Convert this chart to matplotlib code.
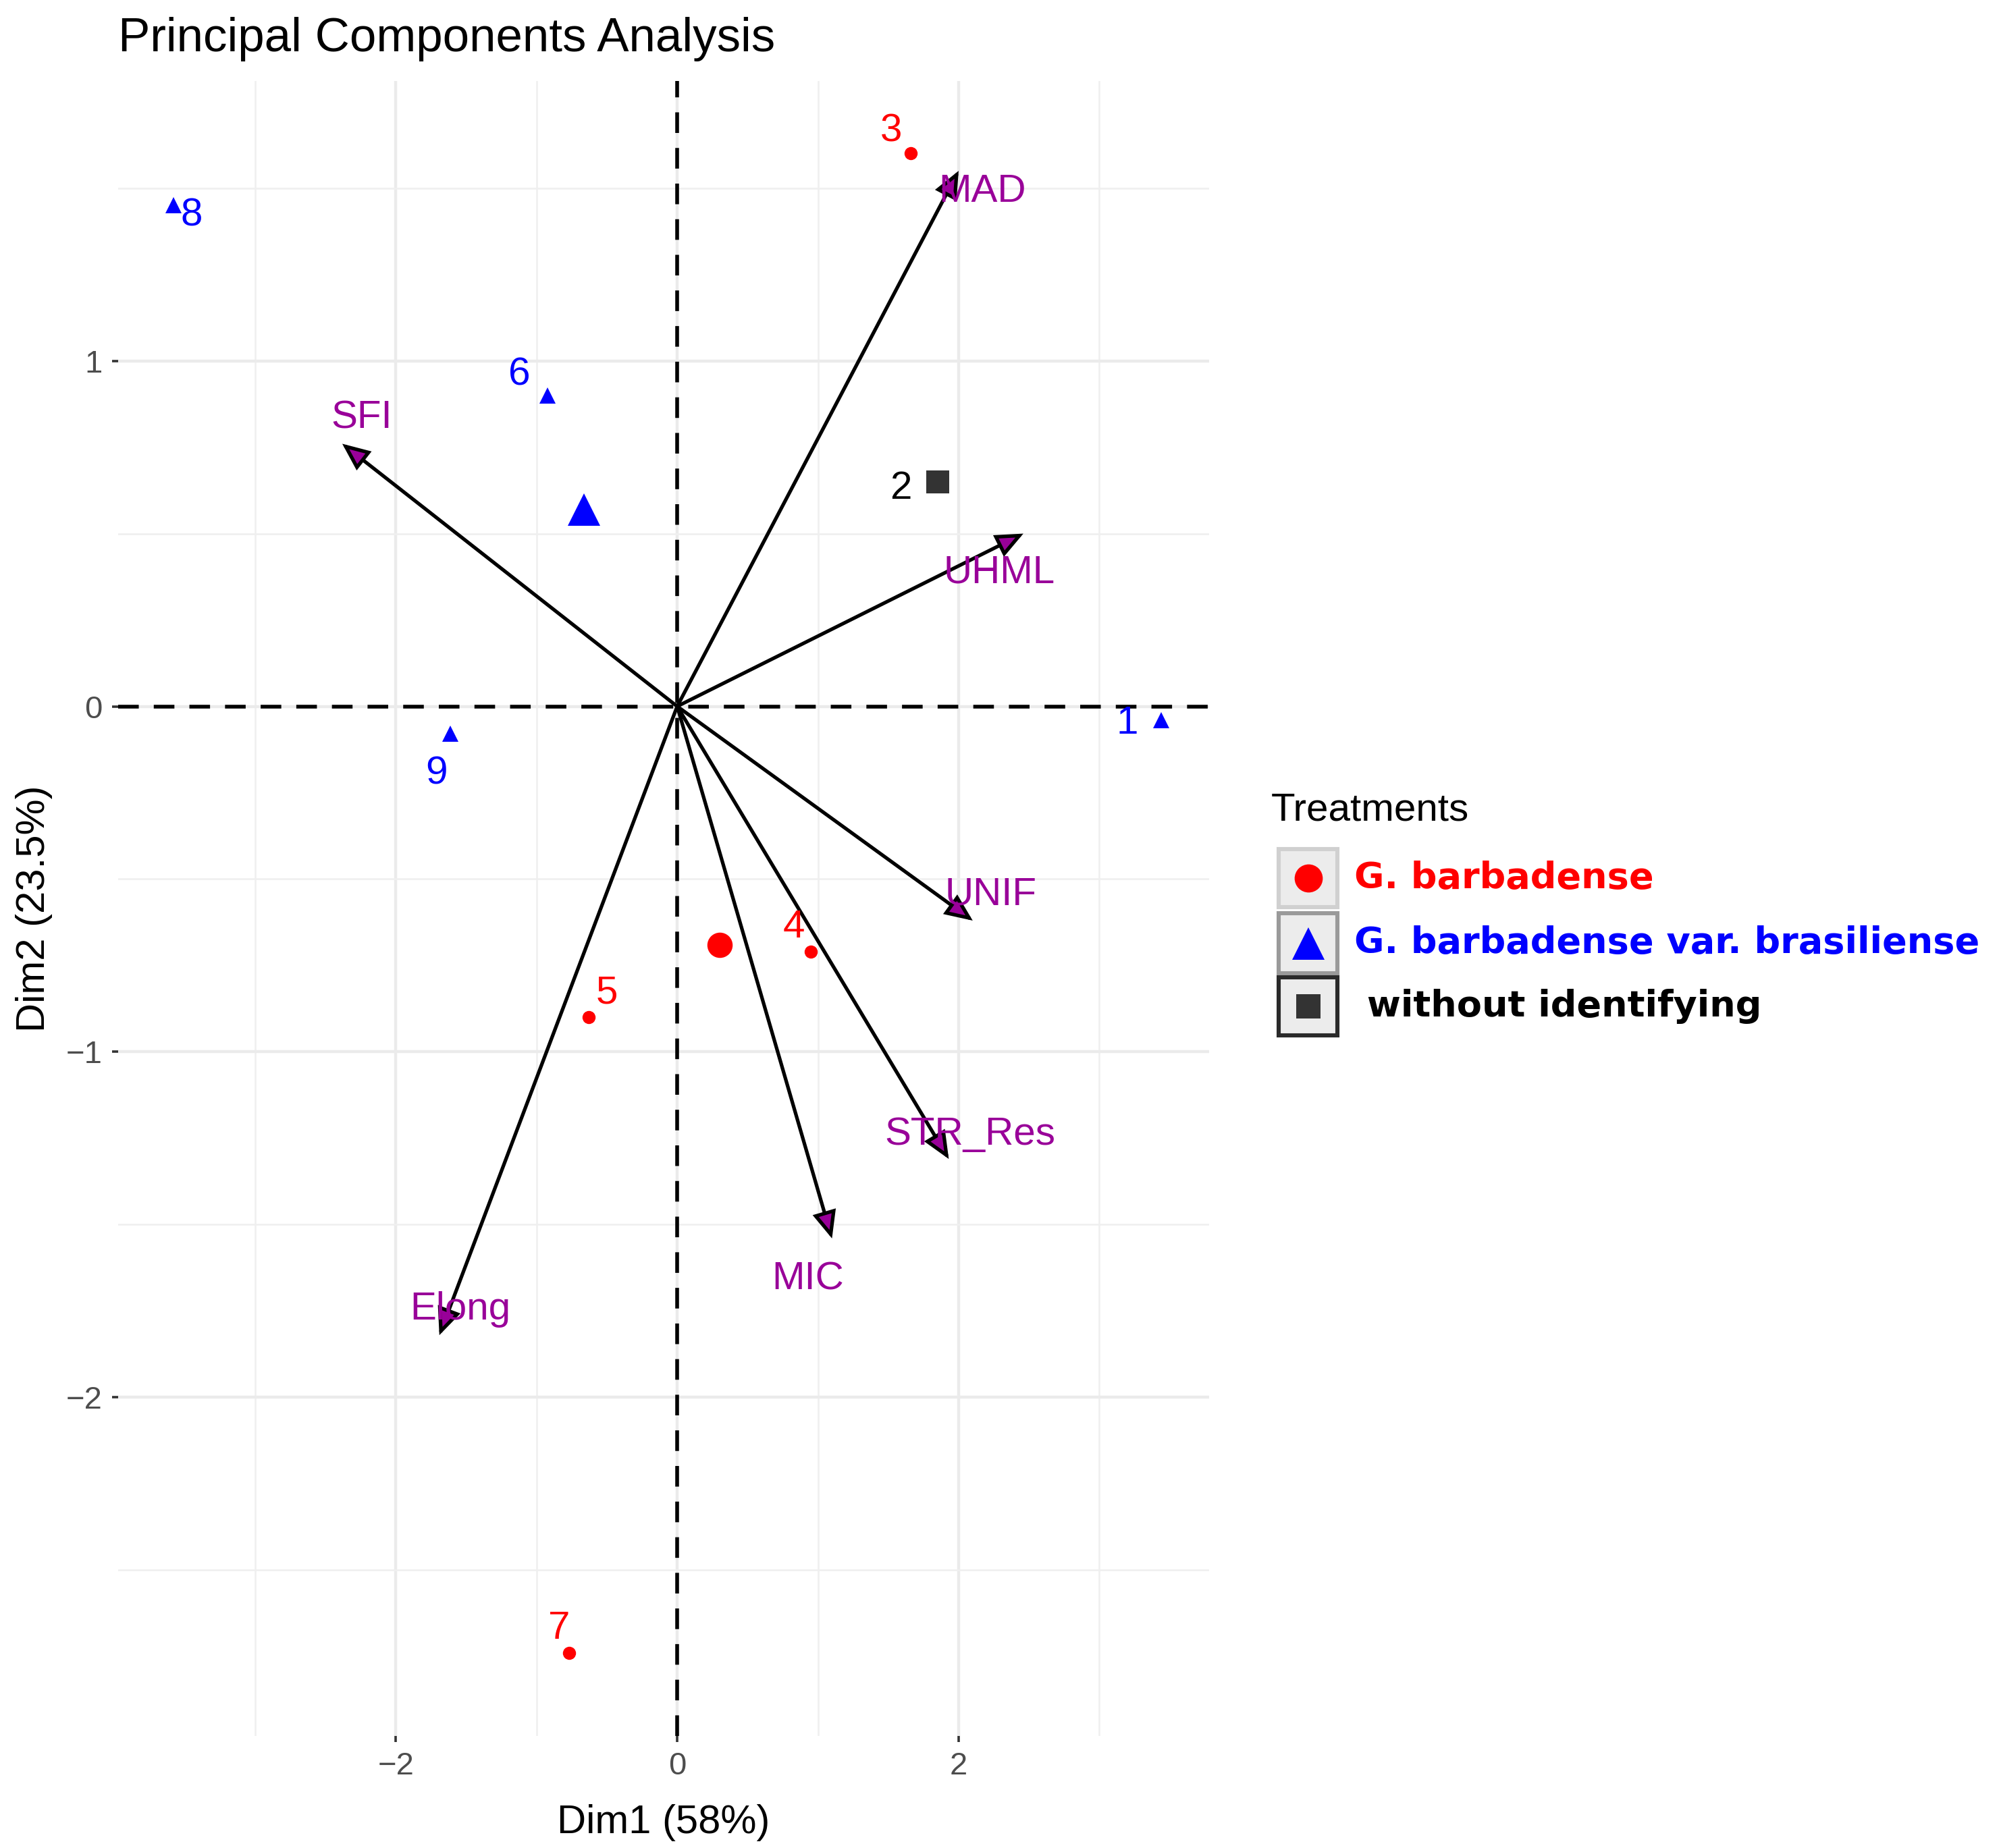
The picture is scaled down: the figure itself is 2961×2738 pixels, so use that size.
import matplotlib

matplotlib.use('Agg')
import matplotlib.pyplot as plt
from matplotlib.lines import Line2D
from matplotlib.patches import Rectangle

# individuals (scores on Dim1 / Dim2)
ind_ids = ["1", "2", "3", "4", "5", "6", "7", "8", "9"]
ind_x = [3.44, 1.85, 1.66, 0.95, -0.63, -0.92, -0.77, -3.58, -1.61]
ind_y = [-0.04, 0.65, 1.60, -0.71, -0.90, 0.90, -2.74, 1.45, -0.08]
ind_group = ["bras", "none", "barb", "barb", "barb", "bras", "barb", "bras", "bras"]
ind_lab_x = [3.20, 1.59, 1.52, 0.83, -0.50, -1.12, -0.84, -3.45, -1.71]
ind_lab_y = [-0.05, 0.63, 1.665, -0.64, -0.83, 0.96, -2.67, 1.42, -0.195]

# group centroids
cen_group = ["barb", "bras"]
cen_x = [0.30, -0.66]
cen_y = [-0.69, 0.57]

# variable loadings (arrow tips)
var_names = ["MAD", "SFI", "UHML", "UNIF", "STR_Res", "MIC", "Elong"]
var_x = [2.00, -2.38, 2.46, 2.10, 1.93, 1.10, -1.69]
var_y = [1.55, 0.76, 0.50, -0.62, -1.31, -1.54, -1.82]
var_lab_x = [2.17, -2.24, 2.29, 2.23, 2.08, 0.93, -1.54]
var_lab_y = [1.49, 0.835, 0.386, -0.544, -1.239, -1.658, -1.746]

groups = ["barb", "bras", "none"]
group_labels = ["G. barbadense", "G. barbadense var. brasiliense", " without identifying"]
group_colors = {"barb": "#FF0000", "bras": "#0000FF", "none": "#333333"}
group_markers = {"barb": "o", "bras": "^", "none": "s"}
group_ms = {"barb": 7, "bras": 8.5, "none": 12}
cen_ms = {"barb": 13.5, "bras": 17.5}
key_ms = {"barb": 15, "bras": 17, "none": 13}

VAR_COL = "#990099"
W, H = 2961, 2738
DPI = 200

plt.rcParams['font.family'] = ['Liberation Sans', 'DejaVu Sans']

fig = plt.figure(figsize=(W / DPI, H / DPI), dpi=DPI)
ax = fig.add_axes([174.5 / W, 1 - 2572 / H, (1791 - 174.5) / W, (2572 - 120) / H])

ax.set_xlim(-3.975, 3.78)
ax.set_ylim(-2.98, 1.81)
ax.set_xticks([-2, 0, 2])
ax.set_xticks([-3, -1, 1, 3], minor=True)
ax.set_yticks([-2, -1, 0, 1])
ax.set_yticks([-2.5, -1.5, -0.5, 0.5, 1.5], minor=True)
ax.set_xticklabels(["\u22122", "0", "2"])
ax.set_yticklabels(["\u22122", "\u22121", "0", "1"])
ax.grid(True, which='major', color='#EBEBEB', lw=1.6, zorder=0)
ax.grid(True, which='minor', color='#EFEFEF', lw=0.9, zorder=0)
ax.set_axisbelow(True)
for s in ax.spines.values():
    s.set_visible(False)
ax.tick_params(which='major', length=3.3, width=1.3, color='#333333',
               labelsize=17, labelcolor='#4D4D4D', pad=5)
ax.tick_params(which='minor', length=0)

ax.axhline(0, color='black', lw=2.0, ls=(0, (5.5, 4)), zorder=2)
ax.axvline(0, color='black', lw=2.0, ls=(0, (5.5, 4)), zorder=2)

# variable arrows
for name, vx, vy, lx, ly in zip(var_names, var_x, var_y, var_lab_x, var_lab_y):
    ax.annotate("", xy=(vx, vy), xytext=(0, 0),
                arrowprops=dict(arrowstyle='-|>,head_length=1.15,head_width=0.5',
                                lw=1.9, edgecolor='black', facecolor=VAR_COL,
                                shrinkA=0, shrinkB=0, joinstyle='miter'), zorder=3)
    ax.text(lx, ly, name, color=VAR_COL, fontsize=21, ha='center', va='center', zorder=4)

# individuals
for g in groups:
    xs = [x for x, gg in zip(ind_x, ind_group) if gg == g]
    ys = [y for y, gg in zip(ind_y, ind_group) if gg == g]
    ax.plot(xs, ys, ls='none', marker=group_markers[g], ms=group_ms[g],
            color=group_colors[g], mew=0, zorder=5)
for lab, lx, ly, g in zip(ind_ids, ind_lab_x, ind_lab_y, ind_group):
    col = 'black' if g == "none" else group_colors[g]
    ax.text(lx, ly, lab, color=col, fontsize=21, ha='center', va='center', zorder=5)

# centroids
for g, cx, cy in zip(cen_group, cen_x, cen_y):
    ax.plot([cx], [cy], ls='none', marker=group_markers[g], ms=cen_ms[g],
            color=group_colors[g], mew=0, zorder=5)

ax.set_xlabel("Dim1 (58%)", fontsize=21.5)
ax.xaxis.set_label_coords(0.5, -0.041)
ax.set_ylabel("Dim2 (23.5%)", fontsize=21.5)
ax.yaxis.set_label_coords(-0.060, 0.5)

fig.text(175 / W, 1 - 76 / H, "Principal Components Analysis", fontsize=25.5,
         ha='left', va='baseline')

# legend (drawn by hand to keep the grey key boxes)
fig.text(1883 / W, 1 - 1200 / H, "Treatments", fontsize=21, ha='left', va='center')
key_rows = [(1258, 1344), (1353, 1442), (1448, 1534)]
key_edges = ['#D0D0D0', '#9A9A9A', '#2A2A2A']
key_x0, key_x1 = 1894, 1981
for (y0, y1), edge, g, lab in zip(key_rows, key_edges, groups, group_labels):
    fig.patches.append(Rectangle((key_x0 / W, 1 - y1 / H), (key_x1 - key_x0) / W,
                                 (y1 - y0) / H, transform=fig.transFigure,
                                 facecolor='#ECECEC', edgecolor=edge, lw=2.2))
    cy = 1 - (y0 + y1) / 2 / H
    fig.lines.append(Line2D([(key_x0 + key_x1) / 2 / W], [cy], transform=fig.transFigure,
                            marker=group_markers[g], ms=key_ms[g], color=group_colors[g],
                            mew=0, ls='none'))
    fig.text(2006 / W, cy, lab, color='black' if g == "none" else group_colors[g],
             fontsize=19.5, fontweight='bold', family='DejaVu Sans',
             ha='left', va='center')

fig.savefig("out.png", dpi=DPI, facecolor='white')
